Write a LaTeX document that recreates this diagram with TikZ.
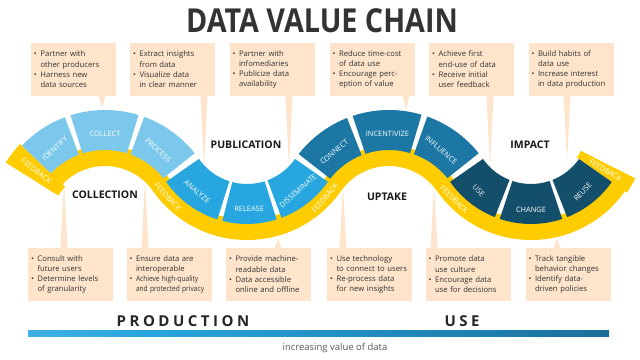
\documentclass[tikz,border=0pt]{standalone}
\usepackage{fontspec}
\setmainfont{Open Sans}
\usepackage{tikz}
\usetikzlibrary{calc,positioning}
\definecolor{lightb}{HTML}{7CC8EC}
\definecolor{midb}{HTML}{27A6DF}
\definecolor{steelb}{HTML}{1C77A5}
\definecolor{darkb}{HTML}{134F6B}
\definecolor{yel}{HTML}{FFCC00}
\definecolor{peach}{HTML}{FDE4CB}
\definecolor{ink}{HTML}{333333}
\pgfdeclarehorizontalshading{valuebar}{100bp}{color(0bp)=(lightb); color(35bp)=(midb); color(70bp)=(steelb); color(100bp)=(darkb!85!black)}
\tikzset{
  infobox/.style={fill=peach,text=ink,align=left,text width=79pt,inner xsep=3pt,inner ysep=0pt,minimum height=53pt,font=\fontsize{7.7}{10.3}\selectfont},
  seglbl/.style={text=white,inner sep=0pt,font=\fontsize{7.4}{8}\selectfont},
  stage/.style={text=black!90,font=\fontsize{10.5}{12}\selectfont\bfseries},
  ptr/.style={fill=peach}
}
\newcommand{\sector}[6][]{\fill[#1] ($(#2)+(#3:#6)$) arc[start angle=#3,end angle=#4,radius=#6] -- ($(#2)+(#4:#5)$) arc[start angle=#4,end angle=#3,radius=#5] -- cycle;}
\newcommand{\itm}{\makebox[6.5pt][l]{\textbullet}}
\newcommand{\cnt}{\hspace*{6.5pt}}
\newcommand{\spc}{\hspace{3.5pt}}

\begin{document}
\begin{tikzpicture}[x=1pt,y=1pt]
\useasboundingbox (0,0) rectangle (640,359);
\fill[white] (0,0) rectangle (640,359);
\node[text=ink,font=\fontsize{33}{36}\selectfont\bfseries] (title) at (322,338) {\scalebox{0.87}[1]{DATA VALUE CHAIN}};

% boxes above the chain
\node[infobox] (b1) at (73.5,289.5) {\itm Partner with\\\cnt other producers\\\itm Harness new\\\cnt data sources};
\node[infobox] (b2) at (172.5,289.5) {\itm Extract insights\\\cnt from data\\\itm Visualize data\\\cnt in clear manner};
\node[infobox] (b3) at (272,289.5) {\itm Partner with\\\cnt infomediaries\\\itm Publicize data\\\cnt availability};
\node[infobox] (b4) at (372,289.5) {\itm Reduce time-cost\\\cnt of data use\\\itm Encourage perc-\\\cnt eption of value};
\node[infobox] (b5) at (471.5,289.5) {\itm Achieve first\\\cnt end-use of data\\\itm Receive initial\\\cnt user feedback};
\node[infobox] (b6) at (571,289.5) {\itm Build habits of\\\cnt data use\\\itm Increase interest\\\cnt in data production};

% boxes below the chain
\node[infobox] (d1) at (70.5,84.5) {\itm Consult with\\\cnt future users\\\itm Determine levels\\\cnt of granularity};
\node[infobox] (d2) at (169,84.5) {\itm Ensure data are\\\cnt interoperable\\\itm \scalebox{0.86}[1]{Achieve high-quality}\\\cnt \scalebox{0.86}[1]{and protected privacy}};
\node[infobox] (d3) at (268.5,84.5) {\itm Provide machine-\\\cnt readable data\\\itm Data accessible\\\cnt online and offline};
\node[infobox] (d4) at (369.5,84.5) {\itm Use technology\\\cnt to connect to users\\\itm Re-process data\\\cnt for new insights};
\node[infobox] (d5) at (468,84.5) {\itm Promote data\\\cnt use culture\\\itm Encourage data\\\cnt use for decisions};
\node[infobox] (d6) at (568,84.5) {\itm Track tangible\\\cnt behavior changes\\\itm Identify data-\\\cnt driven policies};

\coordinate (t1) at (102,251); \coordinate (t2) at (204,192); \coordinate (t3) at (289,192);
\coordinate (t4) at (406,249); \coordinate (t5) at (490,192); \coordinate (t6) at (567,198);
\coordinate (u1) at (64,178); \coordinate (u2) at (145,179); \coordinate (u3) at (278,121);
\coordinate (u4) at (343,172); \coordinate (u5) at (434,173); \coordinate (u6) at (557,120);
\foreach \bx/\tp in {b1/t1,b2/t2,b3/t3,b4/t4,b5/t5,b6/t6}
  \fill[ptr] ($(\tp |- \bx.south)+(-3.5,1)$) -- (\tp) -- ($(\tp |- \bx.south)+(3.5,1)$) -- cycle;
\foreach \bx/\tp in {d1/u1,d2/u2,d3/u3,d4/u4,d5/u5,d6/u6}
  \fill[ptr] ($(\tp |- \bx.north)+(-3.5,-1)$) -- (\tp) -- ($(\tp |- \bx.north)+(3.5,-1)$) -- cycle;

% the chain
\coordinate (c1) at (105,134.4); \coordinate (c2) at (247,233.6);
\coordinate (c3) at (389,134.4); \coordinate (c4) at (531,233.6);
\sector[yel]{c1}{34.5}{148}{58.6}{79}
\sector[yel]{c1}{136.5}{148}{55}{117}
\sector[yel]{c2}{214.9}{325.1}{94.2}{114.6}
\sector[yel]{c3}{34.5}{145.5}{58.6}{79}
\sector[yel]{c4}{214.9}{333}{94.2}{114.6}
\sector[yel]{c4}{325}{333}{56}{117}
\foreach \s/\e in {110.5/136.5,73/107.5,38.5/70} {\sector[lightb]{c1}{\s}{\e}{74.6}{114.6}}
\foreach \s/\e in {214.9/252.5,255.5/287.5,290.5/325.1} {\sector[midb]{c2}{\s}{\e}{58.6}{98.6}}
\foreach \s/\e in {111.5/142,73.5/108.5,38.5/70.5} {\sector[steelb]{c3}{\s}{\e}{74.6}{114.6}}
\foreach \s/\e in {214.9/248.5,251.5/288.5,291.5/325} {\sector[darkb]{c4}{\s}{\e}{58.6}{98.6}}

\foreach \t/\a/\rt in {IDENTIFY/123.5/42,COLLECT/90/0,PROCESS/54.5/-42}
  \node[seglbl,rotate=\rt] (\t) at ($(c1)+(\a:91)$) {\t};
\foreach \t/\a/\rt in {ANALYZE/233/-40,RELEASE/271.5/0,DISSEMINATE/308/41}
  \node[seglbl,rotate=\rt] (\t) at ($(c2)+(\a:83)$) {\t};
\foreach \t/\a/\rt in {CONNECT/127/40,INCENTIVIZE/91/0,INFLUENCE/55/-40}
  \node[seglbl,rotate=\rt] (\t) at ($(c3)+(\a:91)$) {\t};
\foreach \t/\a/\rt in {USE/231.5/-47,CHANGE/270/0,REUSE/308/47}
  \node[seglbl,rotate=\rt] (\t) at ($(c4)+(\a:84)$) {\t};

\node[seglbl,rotate=-38.5] (fb1) at ($(c1)+(142:87)$) {FEEDBACK};
\node[seglbl,rotate=-48] (fb2) at ($(c2)+(222:106.6)$) {FEEDBACK};
\node[seglbl,rotate=50] (fb3) at ($(c2)+(317:106.6)$) {FEEDBACK};
\node[seglbl,rotate=-46] (fb4) at ($(c4)+(224:106.6)$) {FEEDBACK};
\node[seglbl,rotate=-31] (fb5) at ($(c4)+(329:87)$) {FEEDBACK};

\node[stage] (collection) at (105,164) {COLLECTION};
\node[stage] (publication) at (246,214) {PUBLICATION};
\node[stage] (uptake) at (387,162) {UPTAKE};
\node[stage] (impact) at (530,214) {IMPACT};

% production / use scale
\node[text=black!85,font=\fontsize{15}{17}\selectfont\bfseries] (prod) at (183,38) {P\spc R\spc O\spc D\spc U\spc C\spc T\spc I\spc O\spc N};
\node[text=black!85,font=\fontsize{15}{17}\selectfont\bfseries] (use) at (462,38) {U\spc S\spc E};
\shade[shading=valuebar] (28,23) rectangle (609,29);
\node[text=black!65,font=\fontsize{9.5}{11}\selectfont] (note) at (335,11) {increasing value of data};
\end{tikzpicture}
\end{document}
